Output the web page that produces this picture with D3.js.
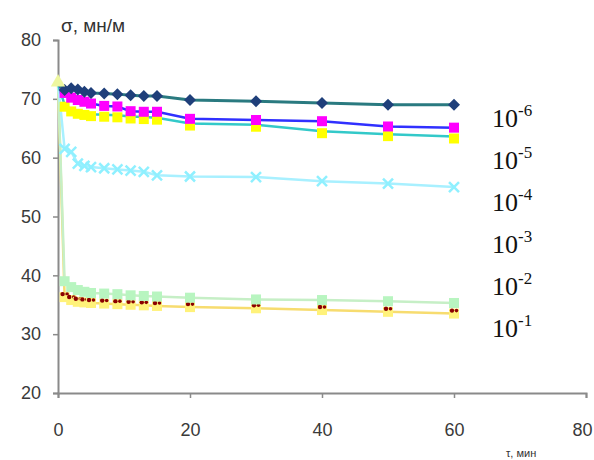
<!DOCTYPE html>
<html>
<head>
<meta charset="utf-8">
<script src="https://cdn.jsdelivr.net/npm/d3@7"></script>
<style>
body { margin: 0; background: #fff; }
svg { display: block; }
</style>
</head>
<body>
<svg class="chart" width="594" height="460"></svg>
<script>
// time points (min)
var times = [0, 1, 2, 3, 4, 5, 7, 9, 11, 13, 15, 20, 30, 40, 50, 60];

// surface tension, mN/m
var s6 = [72.5, 71.5, 71.8, 71.6, 71.2, 71.0, 70.9, 70.8, 70.6, 70.5, 70.5, 69.8, 69.6, 69.3, 69.0, 69.0];
var s5 = [72.5, 71.0, 70.2, 69.8, 69.5, 69.2, 68.8, 68.7, 67.9, 67.8, 67.8, 66.6, 66.4, 66.2, 65.3, 65.1];
var s4 = [72.5, 69.0, 68.2, 67.8, 67.6, 67.4, 67.3, 67.2, 67.0, 66.9, 66.8, 65.8, 65.6, 64.5, 64.0, 63.6];
var s3 = [72.8, 61.5, 61.0, 59.0, 58.6, 58.4, 58.2, 58.0, 57.8, 57.6, 57.0, 56.8, 56.7, 56.0, 55.6, 55.0];
var s2 = [72.8, 39.0, 38.0, 37.5, 37.2, 37.0, 36.9, 36.8, 36.6, 36.5, 36.4, 36.2, 35.9, 35.8, 35.6, 35.3];
var s1 = [72.8, 36.3, 35.8, 35.5, 35.4, 35.3, 35.2, 35.1, 35.0, 34.9, 34.8, 34.6, 34.4, 34.1, 33.8, 33.5];

var concLabels = ["-6", "-5", "-4", "-3", "-2", "-1"];
var xTicks = [0, 20, 40, 60, 80];
var yTicks = [20, 30, 40, 50, 60, 70, 80];

var svg = d3.select("svg.chart");

var x = d3.scaleLinear().domain([0, 80]).range([58, 586]);
var y = d3.scaleLinear().domain([20, 80]).range([393, 40]);

/* axes */
var gx = svg.append("g")
    .attr("transform", "translate(0,393)")
    .call(d3.axisBottom(x).tickValues(xTicks).tickSize(5).tickPadding(22));
var gy = svg.append("g")
    .attr("transform", "translate(58,0)")
    .call(d3.axisLeft(y).tickValues(yTicks).tickSize(5).tickPadding(12));

svg.selectAll(".domain").attr("stroke", "#8a8a8a").attr("stroke-width", 2);
svg.selectAll(".tick line").attr("stroke", "#8a8a8a").attr("stroke-width", 1.5);
svg.selectAll(".tick text")
    .attr("font-family", "Liberation Sans, Arial, sans-serif")
    .attr("font-size", 18)
    .attr("fill", "#3a3a3a");
gx.selectAll(".tick text").attr("dy", "0.9em");
// keep the last label inside the picture
gx.selectAll(".tick text").filter(function(d){ return d == 80; }).attr("x", -4);

/* series */
var series = [
    { v: s1, line: "#f7dc6f", width: 2.5, marker: "square", fill: "#fff27a", dot: "#8b0000" },
    { v: s2, line: "#c6efc6", width: 2.5, marker: "square", fill: "#b8f5c0" },
    { v: s3, line: "#a8f0ff", width: 2.5, marker: "x", fill: "#8ff0ff" },
    { v: s4, line: "#33c9c9", width: 2.5, marker: "square", fill: "#ffff00", off: 2 },
    { v: s5, line: "#3030ff", width: 2.5, marker: "square", fill: "#ff00ff" },
    { v: s6, line: "#2a7a80", width: 3, marker: "diamond", fill: "#1f3f7a" }
];

var line = d3.line()
    .x(function(d){ return x(d[0]); })
    .y(function(d){ return y(d[1]); });

series.forEach(function(s){
    var pts = times.map(function(t, i){ return [t, s.v[i]]; });

    svg.append("path")
        .datum(pts)
        .attr("fill", "none")
        .attr("stroke", s.line)
        .attr("stroke-width", s.width)
        .attr("d", line);

    var g = svg.append("g");
    var m = g.selectAll("g").data(pts.slice(1)).enter().append("g")
        .attr("transform", function(d){
            return "translate(" + x(d[0]) + "," + (y(d[1]) + (s.off || 0)) + ")";
        });

    if (s.marker == "square") {
        m.append("rect")
            .attr("x", -5).attr("y", -5)
            .attr("width", 10).attr("height", 10)
            .attr("fill", s.fill);
    } else if (s.marker == "diamond") {
        m.append("path")
            .attr("d", "M0,-6L6,0L0,6L-6,0Z")
            .attr("fill", s.fill);
    } else if (s.marker == "x") {
        m.append("path")
            .attr("d", "M-5,-5L5,5M-5,5L5,-5")
            .attr("stroke", s.fill)
            .attr("stroke-width", 2.5);
    }
    if (s.dot) {
        m.append("circle")
            .attr("cx", -2).attr("cy", -3).attr("r", 2.2)
            .attr("fill", s.dot);
        m.append("circle")
            .attr("cx", 2.5).attr("cy", -3).attr("r", 1.8)
            .attr("fill", s.dot);
    }
});

// starting point (t = 0)
svg.append("path")
    .attr("d", d3.symbol().type(d3.symbolTriangle).size(90)())
    .attr("transform", "translate(" + x(0) + "," + y(s2[0]) + ")")
    .attr("fill", "#eef7a0");

/* titles */
svg.append("text")
    .attr("x", 61).attr("y", 32)
    .attr("font-family", "Liberation Sans, Arial, sans-serif")
    .attr("font-size", 19)
    .attr("fill", "#333")
    .text("σ, мн/м");

svg.append("text")
    .attr("x", 506).attr("y", 457)
    .attr("font-family", "Liberation Sans, Arial, sans-serif")
    .attr("font-size", 11)
    .attr("fill", "#333")
    .text("τ, мин");

/* concentration labels */
var lab = svg.selectAll("text.conc").data(concLabels).enter().append("text")
    .attr("class", "conc")
    .attr("x", 492)
    .attr("y", function(d, i){ return 127 + i * 42; })
    .attr("font-family", "Liberation Serif, Times New Roman, serif")
    .attr("font-size", 26)
    .attr("fill", "#111");
lab.append("tspan").text("10");
lab.append("tspan")
    .attr("dy", -11)
    .attr("font-size", 17)
    .text(function(d){ return d; });
</script>
</body>
</html>
